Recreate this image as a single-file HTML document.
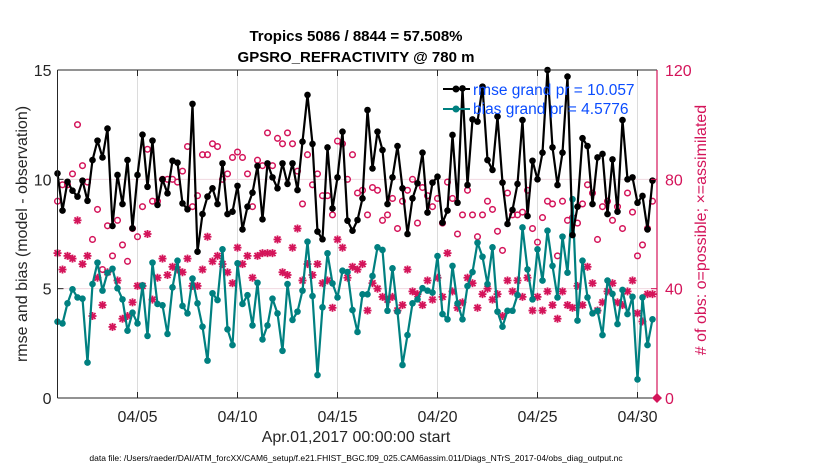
<!DOCTYPE html>
<html><head><meta charset="utf-8"><style>
body{margin:0;background:#fff;}
svg text{font-family:"Liberation Sans",sans-serif;}
</style></head><body>
<svg id="chart" width="830" height="470" xmlns="http://www.w3.org/2000/svg">
<rect width="830" height="470" fill="#fff"/>
<text x="356" y="41" font-size="15" font-weight="bold" text-anchor="middle">Tropics 5086 / 8844 = 57.508%</text>
<text x="356" y="62" font-size="15" font-weight="bold" text-anchor="middle">GPSRO_REFRACTIVITY @ 780 m</text>
<g id="grid"></g>
<g id="marks"></g>
<g id="axes"></g>
<text transform="translate(27,234) rotate(-90)" font-size="16" text-anchor="middle" fill="#262626">rmse and bias (model - observation)</text>
<text transform="translate(706,230) rotate(-90)" font-size="16" text-anchor="middle" fill="#d4145a"># of obs: o=possible; ×=assimilated</text>
<text x="356" y="442" font-size="16" text-anchor="middle" fill="#262626">Apr.01,2017 00:00:00 start</text>
<text x="356" y="461" font-size="8.5" text-anchor="middle">data file: /Users/raeder/DAI/ATM_forcXX/CAM6_setup/f.e21.FHIST_BGC.f09_025.CAM6assim.011/Diags_NTrS_2017-04/obs_diag_output.nc</text>
<g>
<line x1="443" y1="89" x2="470" y2="89" stroke="#000" stroke-width="2"/><circle cx="456" cy="89" r="3.5" fill="#000"/>
<text x="473" y="95" font-size="15.5" fill="#0a4cff">rmse grand pr = 10.057</text>
<line x1="443" y1="109" x2="470" y2="109" stroke="#008080" stroke-width="2"/><circle cx="456" cy="109" r="3.5" fill="#008080"/>
<text x="473" y="114" font-size="15.5" fill="#0a4cff">bias grand pr = 4.5776</text>
</g>
</svg>
<script>
const rmse=[10.27,8.57,9.89,9.48,9.21,9.94,9.02,10.88,11.77,11.0,12.32,7.87,10.2,8.87,10.88,7.76,10.2,12.04,9.66,11.77,8.83,10.0,9.36,10.85,10.76,8.9,8.63,13.45,6.69,8.41,9.21,
9.59,8.87,10.73,8.41,8.52,9.7,7.71,8.75,9.39,10.61,8.17,10.73,10.09,9.59,10.73,9.79,10.73,9.51,11.72,13.86,11.62,7.61,7.26,11.46,8.67,10.09,12.18,8.11,7.65,8.14,
9.13,13.17,10.5,12.18,11.34,8.87,10.09,11.52,9.59,7.5,9.13,9.82,11.22,8.48,9.85,10.12,8.02,8.57,12.03,8.93,14.16,9.74,12.74,12.64,14.24,10.88,10.43,12.87,9.85,7.96,
8.6,9.79,12.71,8.32,10.85,10.0,11.22,15.0,11.46,9.74,11.22,14.7,7.45,8.75,11.88,11.52,8.87,11.0,11.16,8.41,10.91,8.52,12.71,10.0,10.09,8.93,9.24,7.71,9.94];
const bias=[3.49,3.41,4.33,4.97,4.6,4.54,1.62,5.21,6.19,4.91,5.73,5.91,5.02,4.51,3.08,3.9,3.41,5.15,2.84,6.19,4.3,4.24,2.93,5.06,6.28,4.21,3.87,5.46,4.33,3.26,1.71,
4.79,4.48,6.8,3.14,2.42,6.16,4.3,4.7,3.32,5.27,2.68,3.32,4.54,3.87,2.16,5.21,3.57,3.95,4.91,7.15,4.66,1.05,4.15,6.62,5.24,4.6,5.82,5.76,4.02,3.02,
4.74,4.74,5.58,6.89,6.77,3.99,5.93,3.95,1.51,2.88,4.33,4.51,5.02,4.91,4.82,6.49,3.84,3.6,6.04,4.33,3.6,5.12,5.76,7.1,6.46,5.21,6.89,3.95,3.26,3.99,
3.99,4.71,7.8,5.88,4.51,6.8,5.37,7.65,6.04,4.6,7.38,5.73,9.09,3.54,6.28,4.6,3.87,3.99,2.88,5.37,4.76,3.38,4.94,3.84,4.63,0.85,4.6,2.42,3.6];
const possible=[72,78,78,82,100,85,79,58,69,47,63,52,65,56,50,62,59,70,91,72,72,80,80,80,79,83,92,70,74,89,89,
93,92,80,82,88,90,88,82,70,87,85,97,85,95,93,97,93,83,71,89,78,82,74,74,67,94,93,80,89,75,
76,67,77,76,65,67,73,62,72,76,80,64,77,74,70,73,64,79,73,60,67,76,67,59,67,72,69,61,54,75,
67,67,68,76,62,57,66,72,71,52,72,65,66,64,71,78,75,58,70,72,65,70,62,75,68,52,56,62,72];
const assim=[53,47,52,51,65,49,52,30,44,34,46,26,43,29,30,35,41,41,60,36,44,51,45,48,47,46,51,41,41,47,59,
50,52,49,46,42,55,49,52,44,52,53,53,53,58,46,45,55,62,43,49,45,49,42,43,33,58,55,44,48,47,
49,32,42,40,37,36,37,32,34,47,39,38,34,43,36,44,37,53,39,33,35,44,42,33,38,40,36,38,30,43,
39,43,37,44,32,37,32,39,34,29,39,34,33,41,34,48,42,32,35,39,42,35,34,39,43,31,28,38,38];
const xTicks=["04/05","04/10","04/15","04/20","04/25","04/30"];
const xTickDays=[4,9,14,19,24,29];
const yLeftTicks=[0,5,10,15];
const yRightTicks=[0,40,80,120];

const NS="http://www.w3.org/2000/svg";
const X0=57.5,X1=657,Y0=398,Y1=70;
const xDay=d=>X0+d*20;
const xIdx=i=>xDay(i*0.25);
const yL=v=>Y0-(v/15)*(Y0-Y1);
const yR=v=>Y0-(v/120)*(Y0-Y1);
function mk(tag,attrs,parent){const e=document.createElementNS(NS,tag);for(const k in attrs)e.setAttribute(k,attrs[k]);parent.appendChild(e);return e;}
const grid=document.getElementById('grid'),marks=document.getElementById('marks'),axes=document.getElementById('axes');
mk('rect',{x:X0,y:Y1,width:X1-X0,height:Y0-Y1,fill:'#fff'},grid);
xTickDays.forEach((d,k)=>{
  const g=mk('line',{x1:xDay(d),x2:xDay(d),y1:Y1,y2:Y0,stroke:'#dcdcdc','stroke-width':1},grid);
  
  
  mk('line',{x1:xDay(d),x2:xDay(d),y1:Y0,y2:Y0-6,stroke:'#262626'},axes);
  mk('line',{x1:xDay(d),x2:xDay(d),y1:Y1,y2:Y1+6,stroke:'#262626'},axes);
  const l=mk('text',{x:xDay(d),y:Y0+24,'font-size':16,'text-anchor':'middle',fill:'#262626'},axes);
  l.textContent=xTicks[k];
  
  
});
[5,10].forEach(v=>{mk('line',{x1:X0,x2:X1,y1:yL(v),y2:yL(v),stroke:'#f0d8e0','stroke-width':1},grid);});
yLeftTicks.forEach(v=>{
  const l=mk('text',{x:X0-6,y:yL(v)+6,'font-size':16,'text-anchor':'end',fill:'#262626'},axes);
  l.textContent=v;
  
  
  mk('line',{x1:X0,x2:X0+6,y1:yL(v),y2:yL(v),stroke:'#262626'},axes);
});
yRightTicks.forEach(v=>{
  const l=mk('text',{x:X1+8,y:yR(v)+6,'font-size':16,fill:'#d4145a'},axes);
  l.textContent=v;
  
  
  mk('line',{x1:X1,x2:X1-6,y1:yR(v),y2:yR(v),stroke:'#d4145a'},axes);
});
mk('line',{x1:X0,x2:X1,y1:Y1,y2:Y1,stroke:'#262626'},axes);
mk('line',{x1:X0,x2:X1,y1:Y0,y2:Y0,stroke:'#262626'},axes);
mk('line',{x1:X0,x2:X0,y1:Y1,y2:Y0,stroke:'#262626'},axes);
mk('line',{x1:X1,x2:X1,y1:Y1,y2:Y0,stroke:'#d4145a','stroke-width':1.2},axes);
mk('path',{d:`M${X1-5},${Y0} L${X1},${Y0-5} L${X1+5},${Y0} L${X1},${Y0+5}Z`,fill:'#d4145a'},axes);

assim.forEach((v,i)=>{
  const cx=xIdx(i),cy=yR(v),r=4;
  const g=mk('g',{stroke:'#d4145a','stroke-width':1.8},marks);
  
  
  mk('line',{x1:cx-r,x2:cx+r,y1:cy,y2:cy},g);
  mk('line',{x1:cx,x2:cx,y1:cy-r,y2:cy+r},g);
  mk('line',{x1:cx-3,x2:cx+3,y1:cy-3,y2:cy+3},g);
  mk('line',{x1:cx-3,x2:cx+3,y1:cy+3,y2:cy-3},g);
});
possible.forEach((v,i)=>{
  const c=mk('circle',{cx:xIdx(i),cy:yR(v),r:2.8,fill:'none',stroke:'#d4145a','stroke-width':1.5},marks);
  
  
});
function series(arr,color,name){
  const p=mk('polyline',{points:arr.map((v,i)=>xIdx(i)+','+yL(v)).join(' '),fill:'none',stroke:color,'stroke-width':2.2,'stroke-linejoin':'round'},marks);
  
  
  arr.forEach((v,i)=>{
    const c=mk('circle',{cx:xIdx(i),cy:yL(v),r:3.3,fill:color},marks);
    
    
  });
}
series(bias,'#008080','bias');
series(rmse,'#000000','rmse');
</script>
</body></html>
